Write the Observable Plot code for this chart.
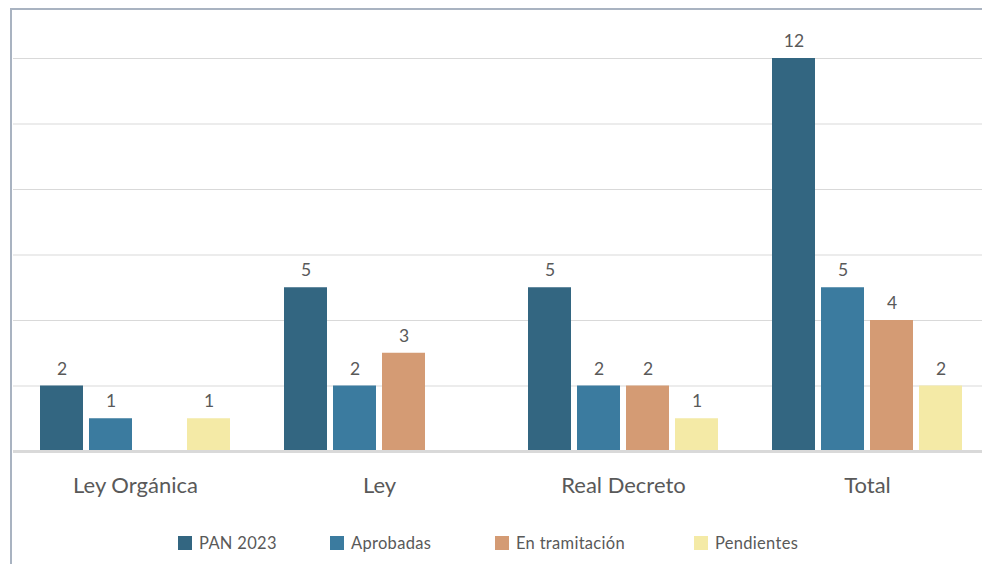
<!DOCTYPE html>
<html>
<head>
<meta charset="utf-8">
<script src="https://cdn.jsdelivr.net/npm/d3@7"></script>
<script src="https://cdn.jsdelivr.net/npm/@observablehq/plot@0.6"></script>
<style>
  html, body { margin: 0; padding: 0; background: #fff; width: 982px; height: 564px; overflow: hidden; }
  body { position: relative; font-family: Lato, "Open Sans", sans-serif; }
  #frame { position: absolute; left: 10px; top: 8px; width: 1000px; height: 600px;
           border-left: 2px solid #a9b3c1; border-top: 2px solid #a9b3c1; box-sizing: border-box; }
  #chart { position: absolute; left: 0; top: 0; }
  #legend { position: absolute; left: 178px; top: 533px; display: flex; font-size: 16.5px; color: #595959; letter-spacing: 0.3px; }
  .item { display: flex; align-items: center; }
  .sw { width: 14px; height: 14px; margin-right: 7px; }
</style>
</head>
<body>
<div id="frame"></div>
<div id="chart"></div>
<div id="legend"></div>
<script>
const categories = ["Ley Orgánica", "Ley", "Real Decreto", "Total"];
const series = ["PAN 2023", "Aprobadas", "En tramitación", "Pendientes"];
const pan2023 = [2, 5, 5, 12];
const aprobadas = [1, 2, 2, 5];
const enTramitacion = [0, 3, 2, 4];
const pendientes = [1, 0, 1, 2];
const colors = ["#336681", "#3b7b9f", "#d49b74", "#f4eaa6"];
const gridTicks = [2, 4, 6, 8, 10, 12];

const seriesValues = [pan2023, aprobadas, enTramitacion, pendientes];
const rows = [];
categories.forEach((c, i) => {
  series.forEach((s, j) => {
    rows.push({category: c, series: s, value: seriesValues[j][i]});
  });
});
const nonZero = rows.filter(d => d.value > 0);

const chart = Plot.plot({
  width: 982,
  height: 522,
  marginLeft: 13,
  marginRight: -7,
  marginTop: 58,
  marginBottom: 71,
  style: {fontFamily: "Lato, 'Open Sans', sans-serif", background: "transparent", color: "#595959"},
  fx: {domain: categories, paddingInner: 0, paddingOuter: 0, axis: null, label: null},
  x: {domain: series, paddingInner: 0.13, paddingOuter: 0.525, axis: null},
  y: {domain: [0, 12], axis: null},
  color: {domain: series, range: colors},
  marks: [
    Plot.ruleY(gridTicks, {stroke: "#d9d9d9", strokeWidth: 1}),
    Plot.barY(nonZero, {fx: "category", x: "series", y: "value", fill: "series"}),
    Plot.ruleY([0], {stroke: "#d9d9d9", strokeWidth: 3}),
    Plot.text(nonZero, {fx: "category", x: "series", y: "value", text: d => String(d.value),
      dy: -17, fontSize: 17.5, fill: "#595959"}),
    Plot.text(categories, {fx: d => d, text: d => d, frameAnchor: "bottom", dy: 41,
      fontSize: 22, fill: "#595959", letterSpacing: 0.3})
  ]
});
document.getElementById("chart").appendChild(chart);

const legend = document.getElementById("legend");
const itemWidths = [152, 165, 199, 120];
series.forEach((s, j) => {
  const item = document.createElement("div");
  item.className = "item";
  item.style.width = itemWidths[j] + "px";
  const sw = document.createElement("span");
  sw.className = "sw";
  sw.style.background = colors[j];
  const t = document.createElement("span");
  t.textContent = s;
  item.appendChild(sw);
  item.appendChild(t);
  legend.appendChild(item);
});
</script>
</body>
</html>
